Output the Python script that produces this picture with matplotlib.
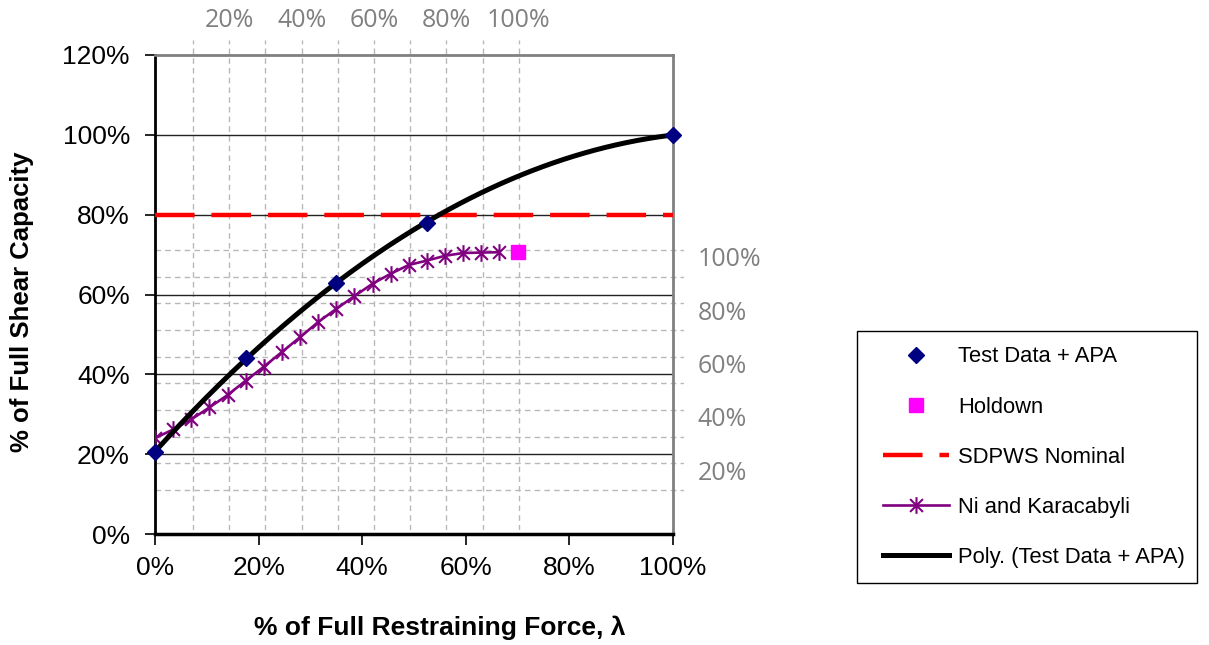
import matplotlib
matplotlib.use("Agg")
import matplotlib.pyplot as plt
import matplotlib.transforms as mtransforms
import numpy as np
from matplotlib.path import Path
from matplotlib.legend_handler import HandlerLine2D
from matplotlib.ticker import PercentFormatter, FixedLocator

plt.rcParams['font.family'] = ['Liberation Sans', 'DejaVu Sans']

# data (percent)
test_x = [0, 17.5, 35, 52.5, 100]
test_y = [20.5, 44, 63, 78, 100]
holdown_x = [70]
holdown_y = [70.6]
nominal_y = 80
ni_x = [0, 3.5, 7, 10.5, 14, 17.5, 21, 24.5, 28, 31.5,
        35, 38.5, 42, 45.5, 49, 52.5, 56, 59.5, 63, 66.5]
ni_y = [24.0, 26.2, 28.7, 31.7, 34.8, 38.4, 41.9, 45.6, 49.3, 53.1,
        56.4, 59.6, 62.7, 65.2, 67.4, 68.5, 69.7, 70.4, 70.5, 70.6]
main_ticks = [0, 20, 40, 60, 80, 100, 120]
x_ticks = [0, 20, 40, 60, 80, 100]
sec_ticks = [20, 40, 60, 80, 100]
sec_grid = [10, 20, 30, 40, 50, 60, 70, 80, 90, 100]

W, H = 1209, 645
fig = plt.figure(figsize=(W / 100, H / 100), dpi=100)

# secondary (overlay) chart: grey dashed grid, labels top and right
ax2 = fig.add_axes([155 / W, 1 - 530 / H, 529 / W, 490 / H])
ax2.set_xlim(-0.5, 145.6)
ax2.set_ylim(-5, 178.7)
for s in ax2.spines.values():
    s.set_visible(False)
ax2.xaxis.set_major_locator(FixedLocator(sec_ticks))
ax2.yaxis.set_major_locator(FixedLocator(sec_ticks))
ax2.xaxis.set_major_formatter(PercentFormatter(decimals=0))
ax2.yaxis.set_major_formatter(PercentFormatter(decimals=0))
ax2.tick_params(which='both', length=0, labelcolor='#808080', labelsize=18,
                labelfontfamily='Open Sans',
                labelleft=False, labelbottom=False, labeltop=True, labelright=True)
ax2.tick_params(axis='x', pad=5)
ax2.tick_params(axis='y', pad=10)
for g in sec_grid:
    ax2.axvline(g, color='#b8b8b8', linestyle=(0, (4, 3)), linewidth=1)
    ax2.axhline(g, color='#b8b8b8', linestyle=(0, (4, 3)), linewidth=1)
off = mtransforms.ScaledTranslation(0, -0.07, fig.dpi_scale_trans)
for lab in ax2.yaxis.get_majorticklabels():
    lab.set_transform(lab.get_transform() + off)

# main chart
ax = fig.add_axes([155 / W, 1 - 534 / H, 518 / W, 479 / H])
ax.patch.set_visible(False)
ax.set_xlim(0, 100)
ax.set_ylim(0, 120)
ax.set_xticks(x_ticks)
ax.set_yticks(main_ticks)
ax.xaxis.set_major_formatter(PercentFormatter(decimals=0))
ax.yaxis.set_major_formatter(PercentFormatter(decimals=0))
ax.tick_params(axis='both', labelsize=19, direction='out', width=1.2, color='black')
ax.tick_params(axis='y', length=7, pad=11)
ax.tick_params(axis='x', length=8, pad=8)
ax.spines['left'].set_linewidth(2)
ax.spines['bottom'].set_linewidth(2.5)
ax.spines['top'].set_color('#808080')
ax.spines['top'].set_linewidth(2)
ax.spines['right'].set_color('#808080')
ax.spines['right'].set_linewidth(2)
for g in [20, 40, 60, 80, 100]:
    ax.axhline(g, color='#222222', linewidth=1, zorder=1)

# series
coef = np.polyfit(test_x, test_y, 2)
xs = np.linspace(0, 100, 200)
star = Path([(-1, -1), (1, 1), (-1, 1), (1, -1), (0, -1.3), (0, 1.3)],
            [Path.MOVETO, Path.LINETO, Path.MOVETO, Path.LINETO, Path.MOVETO, Path.LINETO])

h_nom, = ax.plot([0, 100], [nominal_y, nominal_y], color='#ff0000', linewidth=3.2,
                 linestyle=(0, (8.9, 3.8)), zorder=3, label='SDPWS Nominal')
h_ni, = ax.plot(ni_x, ni_y, color='#800080', linewidth=1.9, marker=star, markersize=12,
                markeredgewidth=1.5, markeredgecolor='#800080', zorder=4,
                label='Ni and Karacabyli')
h_poly, = ax.plot(xs, np.polyval(coef, xs), color='black', linewidth=3.6, zorder=5,
                  label='Poly. (Test Data + APA)')
h_test, = ax.plot(test_x, test_y, linestyle='none', marker='D', markersize=8.5,
                  color='#000080', zorder=6, clip_on=False, label='Test Data + APA')
h_hold, = ax.plot(holdown_x, holdown_y, linestyle='none', marker='s', markersize=10,
                  color='#ff00ff', zorder=6, label='Holdown')

fig.text(22 / W, 1 - 302 / H, '% of Full Shear Capacity', rotation=90, ha='center',
         va='center', fontsize=18.5, fontweight='bold')
fig.text(440 / W, 1 - 628 / H, '% of Full Restraining Force, λ', ha='center',
         va='center', fontsize=19, fontweight='bold')


# legend handles sit a bit right of the frame's inner edge, as in the original
class ShiftedLine(HandlerLine2D):
    def create_artists(self, legend, orig_handle, xdescent, ydescent, width, height,
                       fontsize, trans):
        return super().create_artists(legend, orig_handle, xdescent - 8, ydescent,
                                      width, height, fontsize, trans)


leg = fig.legend([h_test, h_hold, h_nom, h_ni, h_poly],
                 ['Test Data + APA', 'Holdown', 'SDPWS Nominal', 'Ni and Karacabyli',
                  'Poly. (Test Data + APA)'],
                 handler_map={matplotlib.lines.Line2D: ShiftedLine(numpoints=1)},
                 loc='upper left', bbox_to_anchor=(857 / W, 1 - 580 / H, 340 / W, 249 / H),
                 mode='expand', borderaxespad=0, fontsize=15.8, numpoints=1,
                 handlelength=3.0, handletextpad=0.91, labelspacing=1.33,
                 borderpad=0.7, fancybox=False, framealpha=1, edgecolor='black')
leg.get_frame().set_linewidth(1)

fig.savefig('out.png', dpi=100)
